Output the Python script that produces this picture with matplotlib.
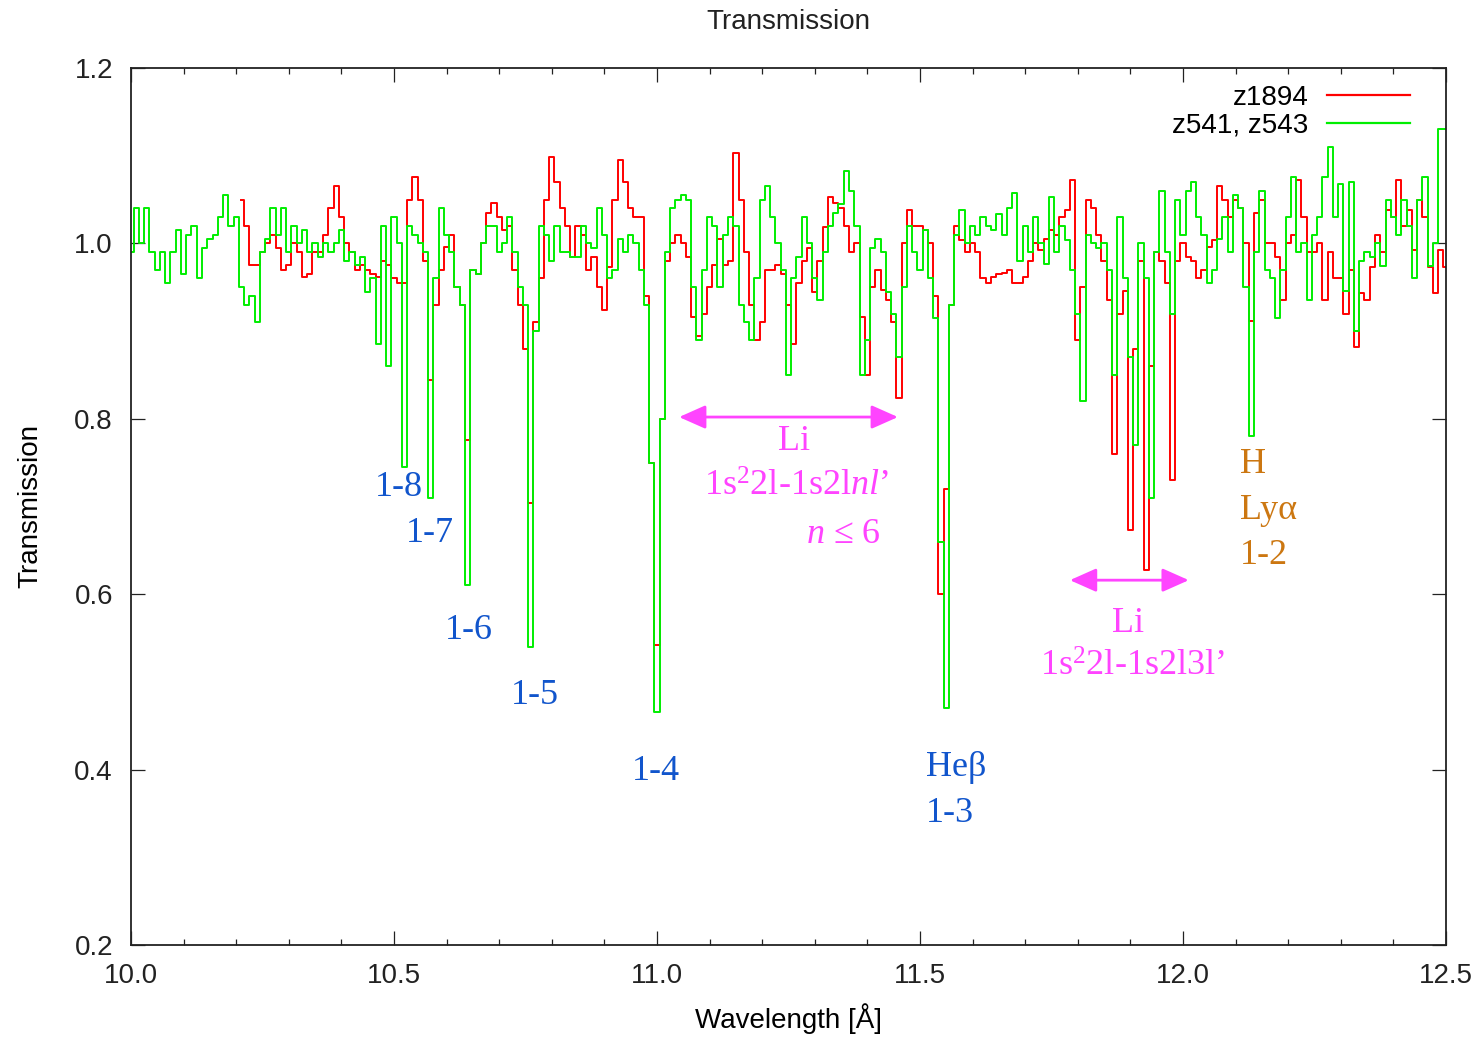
import numpy as np
import matplotlib
matplotlib.use("Agg")
import matplotlib.pyplot as plt
from matplotlib.ticker import MultipleLocator

plt.rcParams["font.family"] = ["Liberation Sans", "DejaVu Sans"]
plt.rcParams["mathtext.fontset"] = "custom"
plt.rcParams["mathtext.rm"] = "Liberation Serif"
plt.rcParams["mathtext.it"] = "Liberation Serif:italic"

# transmission spectra, 0.01 A bins
wl_z541 = np.round(np.arange(10.00, 12.505, 0.01), 2)
t_z541 = [
    0.99, 1.04, 1.00, 1.04, 0.99, 0.97, 0.99, 0.955, 0.99, 1.015,
    0.965, 1.01, 1.02, 0.96, 0.995, 1.005, 1.01, 1.03, 1.055, 1.02,
    1.03, 0.95, 0.93, 0.94, 0.91, 0.99, 1.005, 1.04, 1.01, 1.04,
    0.99, 1.02, 1.00, 1.015, 0.99, 1.00, 0.985, 1.00, 0.99, 1.00,
    1.015, 0.98, 0.99, 0.975, 0.985, 0.945, 0.96, 0.885, 1.02, 0.86,
    1.03, 1.0, 0.745, 1.02, 1.01, 1.0, 0.99, 0.71, 0.96, 1.04,
    1.01, 0.99, 0.95, 0.93, 0.61, 0.97, 0.965, 1.00, 1.02, 1.02,
    0.99, 1.0, 1.03, 0.99, 0.95, 0.93, 0.54, 0.90, 1.02, 1.01,
    0.98, 1.02, 0.99, 0.99, 0.985, 0.985, 1.02, 1.00, 0.995, 1.04,
    1.01, 0.96, 0.97, 1.005, 0.99, 1.01, 1.0, 0.97, 0.93, 0.75,
    0.466, 0.80, 0.99, 1.04, 1.05, 1.055, 1.05, 0.95, 0.89, 0.97,
    1.03, 1.02, 0.95, 1.01, 1.03, 1.02, 0.93, 0.91, 0.89, 0.96,
    1.05, 1.065, 1.03, 1.0, 0.97, 0.85, 0.96, 0.985, 1.03, 1.0,
    0.96, 0.935, 0.99, 1.02, 1.035, 1.045, 1.083, 1.06, 1.02, 0.85,
    0.89, 0.995, 1.005, 0.99, 0.945, 0.92, 0.87, 0.95, 1.02, 0.99,
    0.97, 1.015, 0.96, 0.915, 0.66, 0.47, 0.93, 1.01, 1.038, 1.0,
    1.02, 1.01, 1.03, 1.02, 1.015, 1.034, 1.01, 1.04, 1.057, 0.98,
    1.02, 0.99, 1.03, 1.0, 0.977, 1.053, 0.99, 1.02, 1.004, 0.97,
    0.92, 0.82, 1.01, 1.0, 0.995, 1.0, 0.97, 0.85, 1.03, 0.96,
    0.87, 0.77, 1.0, 0.96, 0.71, 0.99, 1.06, 0.99, 0.92, 1.05,
    1.01, 1.06, 1.07, 1.03, 1.01, 0.955, 0.97, 1.005, 1.03, 0.99,
    1.055, 1.04, 0.95, 0.78, 0.99, 1.06, 0.97, 0.96, 0.915, 0.97,
    1.03, 1.076, 0.99, 1.0, 0.935, 1.01, 1.03, 1.076, 1.11, 1.03,
    1.068, 0.946, 1.07, 0.90, 0.98, 0.99, 0.985, 1.0, 0.974, 1.05,
    1.03, 1.01, 1.05, 1.02, 0.96, 1.05, 1.076, 0.974, 1.0, 1.13,
    1.13,
]

wl_z1894 = np.round(np.arange(10.21, 12.505, 0.01), 2)
t_z1894 = [
    1.05, 1.02, 0.975, 0.975, 0.99, 1.0, 1.01, 0.995, 0.97,
    0.975, 1.0, 0.99, 0.962, 0.965, 0.99, 0.99, 1.01, 1.04, 1.065,
    1.03, 1.0, 0.99, 0.97, 0.975, 0.97, 0.965, 0.962, 0.98, 0.975,
    0.96, 0.955, 0.955, 1.05, 1.076, 1.05, 0.98, 0.844, 0.93, 0.97,
    0.996, 1.01, 0.95, 0.93, 0.776, 0.97, 0.965, 1.0, 1.035, 1.046,
    1.03, 1.015, 1.02, 0.97, 0.93, 0.88, 0.704, 0.91, 0.96, 1.05,
    1.099, 1.07, 1.04, 1.02, 0.985, 1.02, 1.01, 0.97, 0.985, 0.95,
    0.924, 0.973, 1.05, 1.095, 1.07, 1.04, 1.03, 1.03, 0.94, 0.75,
    0.542, 0.80, 0.98, 1.0, 1.01, 1.0, 0.985, 0.916, 0.894, 0.92,
    0.95, 0.975, 1.005, 0.975, 0.98, 1.103, 1.05, 0.99, 0.93, 0.89,
    0.91, 0.97, 0.97, 0.975, 0.965, 0.93, 0.885, 0.955, 0.98, 0.995,
    0.945, 0.98, 1.019, 1.053, 1.046, 1.04, 1.02, 0.99, 1.0, 0.916,
    0.85, 0.95, 0.97, 0.947, 0.935, 0.91, 0.824, 1.0, 1.038, 1.02,
    1.02, 1.015, 1.0, 0.94, 0.60, 0.72, 0.93, 1.02, 1.004, 0.99,
    1.0, 0.99, 0.96, 0.955, 0.962, 0.965, 0.966, 0.97, 0.955, 0.955,
    0.962, 0.98, 1.0, 0.993, 1.005, 1.015, 1.01, 1.03, 1.038, 1.072,
    0.89, 0.95, 1.05, 1.04, 1.01, 0.98, 0.935, 0.76, 0.92, 0.946,
    0.673, 0.88, 0.98, 0.628, 0.86, 0.99, 0.98, 0.955, 0.73, 0.98,
    1.0, 0.985, 0.98, 0.96, 0.97, 0.996, 1.004, 1.065, 1.05, 1.03,
    1.05, 1.04, 1.0, 0.912, 1.035, 1.05, 1.0, 1.0, 0.985, 0.935,
    1.0, 1.01, 1.072, 1.03, 0.99, 0.99, 1.0, 0.935, 0.99, 0.96,
    0.96, 0.92, 0.97, 0.882, 0.943, 0.935, 0.973, 1.01, 0.99, 1.038,
    1.03, 1.072, 1.02, 1.038, 0.992, 1.05, 1.03, 0.973, 0.943, 0.992,
    0.973,
]

BLUE = "#1155cc"
MAGENTA = "#ff44ff"
ORANGE = "#cc7711"
SERIF = ["Liberation Serif", "DejaVu Serif"]

fig = plt.figure(figsize=(14.82, 10.42), dpi=100)
ax = fig.add_axes([131 / 1482, 1 - 945 / 1042, 1315 / 1482, 877 / 1042])

ax.plot(wl_z1894, t_z1894, drawstyle="steps-mid", color="#ff0000", lw=1.4, label="z1894")
ax.plot(wl_z541, t_z541, drawstyle="steps-mid", color="#00ee00", lw=1.4, label="z541, z543")

ax.set_xlim(10.0, 12.5)
ax.set_ylim(0.2, 1.2)
ax.xaxis.set_major_locator(MultipleLocator(0.5))
ax.xaxis.set_minor_locator(MultipleLocator(0.1))
ax.yaxis.set_major_locator(MultipleLocator(0.2))
ax.xaxis.set_major_formatter(lambda v, p: f"{v:.1f}")
ax.yaxis.set_major_formatter(lambda v, p: f"{v:.1f}")
ax.tick_params(which="both", direction="in", top=True, right=True, width=0.9, colors="#222222", labelsize=20)
ax.tick_params(which="major", length=10, pad=13)
ax.tick_params(which="minor", length=4.5)
for s in ax.spines.values():
    s.set_linewidth(1.3)
    s.set_color("#222222")

ax.set_xlabel("Wavelength [Å]", fontsize=20, labelpad=10)
ax.set_ylabel("Transmission", fontsize=20, labelpad=22)
fig.text(0.532, 1 - 22 / 1042, "Transmission", ha="center", va="center", fontsize=20, color="#222222")

leg = ax.legend(loc="upper right", bbox_to_anchor=(0.9726, 0.981), frameon=False, markerfirst=False,
                fontsize=20, handlelength=3.0, handletextpad=0.65, labelspacing=0.08,
                borderpad=0, borderaxespad=0)
for line in leg.get_lines():
    line.set_linewidth(1.6)

# line identifications
lab = dict(fontsize=26, family=SERIF, ha="center", va="center")
side = dict(fontsize=26, family=SERIF, ha="left", va="center")
ax.text(10.510, 0.722, "1-8", color=BLUE, **lab)
ax.text(10.568, 0.669, "1-7", color=BLUE, **lab)
ax.text(10.643, 0.559, "1-6", color=BLUE, **lab)
ax.text(10.768, 0.485, "1-5", color=BLUE, **lab)
ax.text(10.998, 0.398, "1-4", color=BLUE, **lab)
ax.text(11.511, 0.402, "Heβ", color=BLUE, **side)
ax.text(11.511, 0.350, "1-3", color=BLUE, **side)

ax.text(11.260, 0.774, "Li", color=MAGENTA, **lab)
ax.text(11.266, 0.722, r"1s$^{2}$2l-1s2l$\it{nl}$’", color=MAGENTA, **lab)
ax.text(11.354, 0.668, r"$\it{n}$ ≤ 6", color=MAGENTA, **lab)
ax.text(11.895, 0.567, "Li", color=MAGENTA, **lab)
ax.text(11.903, 0.517, r"1s$^{2}$2l-1s2l3l’", color=MAGENTA, **lab)

ax.text(12.108, 0.748, "H", color=ORANGE, **side)
ax.text(12.108, 0.695, "Lyα", color=ORANGE, **side)
ax.text(12.108, 0.644, "1-2", color=ORANGE, **side)

arrow = dict(arrowstyle="<|-|>,head_length=0.9,head_width=0.4", color=MAGENTA, lw=2,
             shrinkA=0, shrinkB=0, mutation_scale=18)
ax.annotate("", xy=(11.042, 0.802), xytext=(11.458, 0.802), arrowprops=arrow)
ax.annotate("", xy=(11.785, 0.616), xytext=(12.011, 0.616), arrowprops=arrow)

fig.savefig("out.png", dpi=100)
